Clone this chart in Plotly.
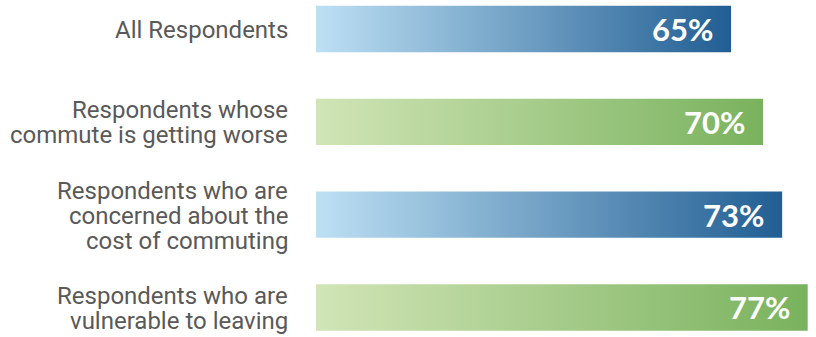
import plotly.graph_objects as go

# Survey groups (top to bottom), share of respondents, and bar colour family
categories = [
    "All Respondents",
    "Respondents whose<br>commute is getting worse",
    "Respondents who are<br>concerned about the<br>cost of commuting",
    "Respondents who are<br>vulnerable to leaving",
]
values = [65, 70, 73, 77]
palettes = ["blue", "green", "blue", "green"]

gradients = {
    "blue": [[0, "#bde0f4"], [1, "#215e93"]],
    "green": [[0, "#d1e5b6"], [1, "#79b25d"]],
}

BAR_HALF = 0.25       # half bar thickness in category units
LINE_PITCH = 25       # px between label lines
LABEL_GAP = 26        # px between label text and bar start
VALUE_PAD = 16        # px between value text and bar end

fig = go.Figure()
annotations = []

for i, (cat, val, pal) in enumerate(zip(categories, values, palettes)):
    # horizontal bar with a left-to-right gradient fill
    fig.add_trace(go.Scatter(
        x=[0, val, val, 0, 0],
        y=[i - BAR_HALF, i - BAR_HALF, i + BAR_HALF, i + BAR_HALF, i - BAR_HALF],
        mode="lines",
        line=dict(width=0),
        fill="toself",
        fillgradient=dict(type="horizontal", colorscale=gradients[pal]),
        hoverinfo="skip",
        showlegend=False,
    ))

    # value label inside the bar end
    annotations.append(dict(
        x=val, y=i, xref="x", yref="y",
        text=f"{val}%", showarrow=False,
        xanchor="right", yanchor="middle", xshift=-VALUE_PAD,
        font=dict(family="Lato", size=31, color="white", weight="bold"),
    ))

    # category label, one line per annotation for tight leading
    lines = cat.split("<br>")
    n = len(lines)
    for k, line in enumerate(lines):
        annotations.append(dict(
            x=0, y=i, xref="x", yref="y",
            text=line, showarrow=False,
            xanchor="right", yanchor="middle", xshift=-LABEL_GAP,
            yshift=-(k - (n - 1) / 2) * LINE_PITCH - 1,
            font=dict(family="Roboto", size=24, color="#595959"),
        ))

fig.update_layout(
    width=816, height=337,
    margin=dict(l=316, r=0, t=0, b=0),
    paper_bgcolor="white", plot_bgcolor="white",
    xaxis=dict(range=[0, 78.3], visible=False, fixedrange=True),
    yaxis=dict(range=[3.318, -0.3125], visible=False, fixedrange=True),
    annotations=annotations,
)

fig.write_html("out.html")
